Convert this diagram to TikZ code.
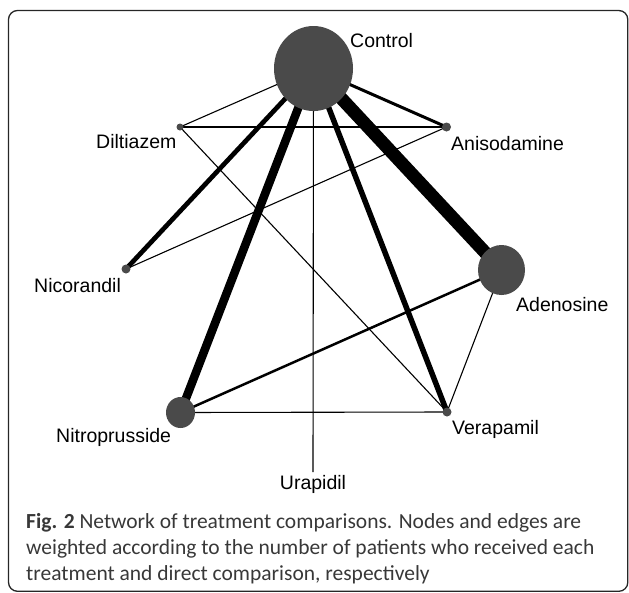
\documentclass[tikz,border=0pt]{standalone}
\usepackage{fontspec}
\setsansfont{Liberation Sans}
\newfontfamily\capfont{Carlito}
\usetikzlibrary{shapes.geometric,backgrounds}
\definecolor{nodegray}{HTML}{4A4A4A}
\tikzset{
  trt/.style={ellipse, fill=nodegray, inner sep=0pt},
  lbl/.style={font=\sffamily\fontsize{19.5}{22}\selectfont, inner sep=0pt, anchor=base west},
  caprow/.style={font=\capfont\fontsize{21.5}{26}\selectfont, text=black!78, inner sep=0pt, anchor=base west},
  thinedge/.style={line width=1.1pt},
}
\begin{document}
\begin{tikzpicture}[x=1pt,y=-1pt]
\useasboundingbox (0,0) rectangle (629,592);
% frame
\draw[rounded corners=9pt, line width=1.3pt, black!85] (8.5,10.5) rectangle (627.8,591.3);

% treatments
\node[trt, minimum width=79pt, minimum height=85pt] (control) at (313.5,68.5) {};
\node[trt, minimum size=7pt] (diltiazem) at (180,127) {};
\node[trt, minimum size=9pt] (anisodamine) at (446.5,127) {};
\node[trt, minimum size=9pt] (nicorandil) at (126,269) {};
\node[trt, minimum width=47pt, minimum height=50pt] (adenosine) at (501.5,270) {};
\node[trt, minimum width=29pt, minimum height=31pt] (nitroprusside) at (180.5,412.5) {};
\node[trt, minimum size=9pt] (verapamil) at (447,412) {};
\coordinate (urapidil) at (313,472);

% names
\node[lbl] (controlname) at (350,47) {Control};
\node[lbl] (diltiazemname) at (96,148) {Diltiazem};
\node[lbl] (anisodaminename) at (451,150) {Anisodamine};
\node[lbl] (nicorandilname) at (34,292) {Nicorandil};
\node[lbl] (adenosinename) at (516,311) {Adenosine};
\node[lbl] (nitroprussidename) at (56,442) {Nitroprusside};
\node[lbl] (verapamilname) at (452,434) {Verapamil};
\node[lbl, anchor=base] (urapidilname) at (313,489) {Urapidil};

% comparisons
\begin{scope}[on background layer]
\draw[line width=13pt] (control.center) -- (adenosine.center);
\draw[line width=8.5pt] (control.center) -- (nitroprusside.center);
\draw[line width=5.5pt] (control.center) -- (verapamil.center);
\draw[line width=4.7pt] (control.center) -- (nicorandil.center);
\draw[line width=3pt] (control.center) -- (anisodamine.center);
\draw[line width=2.5pt] (adenosine.center) -- (nitroprusside.center);
\draw[thinedge] (control.center) -- (diltiazem.center);
\draw[thinedge] (control.center) -- (urapidil);
\draw[thinedge] (diltiazem.center) -- (anisodamine.center);
\draw[thinedge] (diltiazem.center) -- (verapamil.center);
\draw[thinedge] (anisodamine.center) -- (nicorandil.center);
\draw[thinedge] (adenosine.center) -- (verapamil.center);
\draw[thinedge] (nitroprusside.center) -- (verapamil.center);
\end{scope}

% caption
\node[caprow] (caption1) at (26,528) {\textbf{Fig. 2} Network of treatment comparisons. Nodes and edges are};
\node[caprow] (caption2) at (26,554) {weighted according to the number of patients who received each};
\node[caprow] (caption3) at (26,580) {treatment and direct comparison, respectively};
\end{tikzpicture}
\end{document}
